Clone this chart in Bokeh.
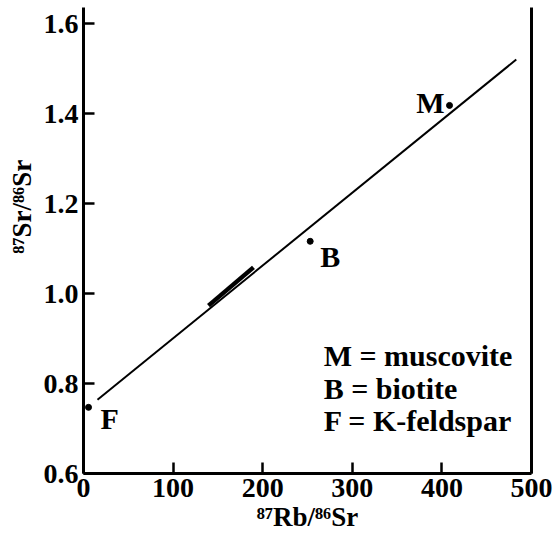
from bokeh.plotting import figure
from bokeh.models import LinearAxis, FixedTicker, Range1d, Label
from bokeh.core.properties import value
from bokeh.embed import file_html
from bokeh.resources import INLINE

# ---- data ----
minerals = ["M", "B", "F"]
rb86sr = [408.5, 253.0, 5.6]
sr87sr86 = [1.418, 1.116, 0.747]
isochron_x = [15.6, 483.0]
isochron_y = [0.764, 1.520]
whole_rock_x = [139.5, 189.7]
whole_rock_y = [0.973, 1.058]
x_ticks = [0, 100, 200, 300, 400, 500]
x_tick_labels = ["0", "100", "200", "300", "400", "500"]
y_ticks = [0.6, 0.8, 1.0, 1.2, 1.4, 1.6]
y_tick_labels = ["0.6", "0.8", "1.0", "1.2", "1.4", "1.6"]
legend_lines = ["M = muscovite", "B = biotite", "F = K-feldspar"]
x_label = "\u2078\u2077Rb/\u2078\u2076Sr"
y_label = "\u2078\u2077Sr/\u2078\u2076Sr"

FONT = "Liberation Serif"

p = figure(width=553, height=541, x_range=Range1d(0, 500), y_range=Range1d(0.6, 1.6356),
           output_backend="svg", toolbar_location=None,
           min_border_left=83, min_border_top=7, min_border_bottom=68, min_border_right=22)
p.outline_line_color = None
p.xgrid.visible = False
p.ygrid.visible = False
p.background_fill_color = "white"
p.border_fill_color = "white"

for ax, ticks, labels in ((p.xaxis[0], x_ticks, x_tick_labels), (p.yaxis[0], y_ticks, y_tick_labels)):
    ax.ticker = FixedTicker(ticks=ticks)
    ax.major_label_overrides = {t: l for t, l in zip(ticks, labels)}
    ax.minor_tick_line_color = None
    ax.major_tick_in = 11
    ax.major_tick_out = 0
    ax.major_tick_line_width = 2.5
    ax.major_tick_line_color = "black"
    ax.axis_line_width = 3
    ax.axis_line_color = "black"
    ax.major_label_text_font = FONT
    ax.major_label_text_font_style = "bold"
    ax.major_label_text_font_size = "28px"
    ax.major_label_text_color = "black"
    ax.axis_label_text_font = FONT
    ax.axis_label_text_font_style = "bold"
    ax.axis_label_text_font_size = "27px"
    ax.axis_label_text_color = "black"

p.xaxis[0].axis_label = x_label
# leading no-break spaces lift the y title above the axis middle, as in the original
p.yaxis[0].axis_label = "\u00a0" * 10 + y_label
p.xaxis[0].major_label_standoff = 5
p.yaxis[0].major_label_standoff = 5
p.xaxis[0].axis_label_standoff = 2
p.yaxis[0].axis_label_standoff = 4

right = LinearAxis(ticker=FixedTicker(ticks=[]), major_tick_in=0, major_tick_out=0,
                   minor_tick_in=0, minor_tick_out=0,
                   major_label_text_font_size="0px", axis_line_width=3,
                   axis_line_color="black", major_label_standoff=0)
p.add_layout(right, "right")

# isochron
p.line(isochron_x, isochron_y, line_color="black", line_width=2)
# thick segment
p.line(whole_rock_x, whole_rock_y, line_color="black", line_width=4.5)
# mineral points
p.scatter(rb86sr, sr87sr86, size=6, color="black")

txt = dict(text_font=value(FONT), text_font_style="bold", text_font_size="30px", text_color="black")
p.text([rb86sr[0]], [sr87sr86[0]], text=[minerals[0]], text_align="right",
       text_baseline="middle", x_offset=-5, y_offset=-3, **txt)
p.text([rb86sr[1]], [sr87sr86[1]], text=[minerals[1]], text_align="left",
       text_baseline="middle", x_offset=10, y_offset=15, **txt)
p.text([rb86sr[2]], [sr87sr86[2]], text=[minerals[2]], text_align="left",
       text_baseline="middle", x_offset=12, y_offset=11, **txt)

legend_y = [0.862, 0.790, 0.718]
for line, ly in zip(legend_lines, legend_y):
    p.add_layout(Label(x=268, y=ly, text=line, text_font=FONT, text_font_style="bold",
                       text_font_size="30px", text_color="black", text_baseline="middle"))

open("out.html", "w").write(file_html(p, INLINE))
